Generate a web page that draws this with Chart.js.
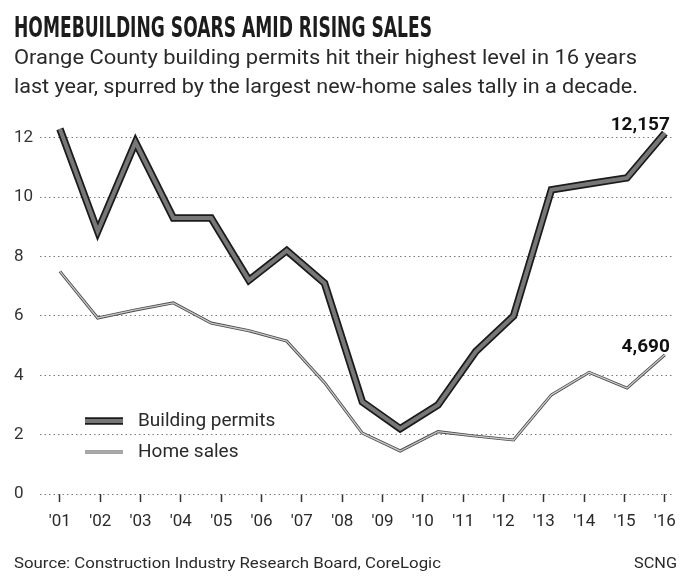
<!DOCTYPE html>
<html>
<head>
<meta charset="utf-8">
<script src="https://cdn.jsdelivr.net/npm/chart.js@4.4.1/dist/chart.umd.min.js"></script>
<style>
  html, body { margin: 0; padding: 0; background: #fff; }
  #wrap { position: relative; width: 686px; height: 582px; overflow: hidden; background: #fff; }
  #chart { position: absolute; left: 0; top: 0; }
  .txt { position: absolute; white-space: nowrap; transform-origin: 0 0; display: inline-block; }
  #title { left: 14px; top: 14px; font: bold 28px "Liberation Sans Narrow", "DejaVu Sans Condensed", sans-serif; line-height: 28px; color: #1c1c1c; }
  .sub { left: 14px; font: 400 21px Roboto, sans-serif; line-height: 24px; color: #2a2a2a; }
  #sub1 { top: 45px; }
  #sub2 { top: 74px; }
  .foot { top: 554px; font: 400 15px Roboto, sans-serif; line-height: 18px; color: #2a2a2a; }
  #source { left: 14px; }
  #credit { left: 634px; }
</style>
</head>
<body>
<div id="wrap">
  <canvas id="chart" width="686" height="582"></canvas>
  <div id="title" class="txt" data-w="418">HOMEBUILDING SOARS AMID RISING SALES</div>
  <div id="sub1" class="txt sub" data-w="623">Orange County building permits hit their highest level in 16 years</div>
  <div id="sub2" class="txt sub" data-w="624">last year, spurred by the largest new-home sales tally in a decade.</div>
  <div id="source" class="txt foot" data-w="427">Source: Construction Industry Research Board, CoreLogic</div>
  <div id="credit" class="txt foot" data-w="43">SCNG</div>
</div>
<script>
// Year labels along the bottom axis
const yearLabels = ["'01", "'02", "'03", "'04", "'05", "'06", "'07", "'08",
                    "'09", "'10", "'11", "'12", "'13", "'14", "'15", "'16"];

// Values in thousands
const buildingPermits = [12.3, 8.85, 11.85, 9.3, 9.3, 7.2, 8.2, 7.1, 3.1, 2.2,
                         3.0, 4.8, 6.0, 10.25, 10.45, 10.65, 12.157];
const homeSales = [7.5, 5.93, 6.2, 6.44, 5.76, 5.5, 5.15, 3.75, 2.05, 1.45,
                   2.1, 1.95, 1.82, 3.34, 4.1, 3.57, 4.69];

const yTickValues = [0, 2, 4, 6, 8, 10, 12];

const seriesNames = ['Building permits', 'Home sales'];

// Squeeze each text line horizontally to its column width
document.querySelectorAll('.txt').forEach(el => {
  const w = el.getBoundingClientRect().width;
  const target = parseFloat(el.dataset.w);
  if (w > 0 && target) el.style.transform = 'scaleX(' + (target / w) + ')';
});

const FONT = 'Roboto, sans-serif';
const pointIndex = buildingPermits.map((_, i) => i);

// Line looks: a dark casing under a lighter core
const permitStyle = { casing: '#1b1b1b', casingWidth: 7.5, core: '#777777', coreWidth: 4 };
const salesStyle  = { casing: '#4a4a4a', casingWidth: 3.0, core: '#c8c8c8', coreWidth: 1.3 };

function series(values, color, width, order) {
  return {
    data: values.map((v, i) => ({ x: pointIndex[i], y: v })),
    borderColor: color,
    borderWidth: width,
    borderJoinStyle: 'miter',
    borderCapStyle: 'butt',
    pointRadius: 0,
    tension: 0,
    fill: false,
    order: order
  };
}

const legendAndLabels = {
  id: 'legendAndLabels',
  afterDatasetsDraw(chart) {
    const ctx = chart.ctx;
    ctx.save();

    // Legend inside the plot, lower left
    const rows = [
      { name: seriesNames[0], style: permitStyle, y: 421 },
      { name: seriesNames[1], style: salesStyle, y: 452 }
    ];
    rows.forEach(r => {
      ctx.lineCap = 'butt';
      ctx.beginPath(); ctx.moveTo(85, r.y); ctx.lineTo(123, r.y);
      ctx.strokeStyle = r.style.casing; ctx.lineWidth = r.style.casingWidth; ctx.stroke();
      ctx.beginPath(); ctx.moveTo(85, r.y); ctx.lineTo(123, r.y);
      ctx.strokeStyle = r.style.core; ctx.lineWidth = r.style.coreWidth; ctx.stroke();
      ctx.fillStyle = '#2a2a2a';
      ctx.font = '400 19px ' + FONT;
      ctx.textAlign = 'left';
      ctx.textBaseline = 'middle';
      ctx.fillText(r.name, 138, r.y);
    });

    // End-of-line value labels
    [[0, buildingPermits], [2, homeSales]].forEach(([dsIndex, values]) => {
      const meta = chart.getDatasetMeta(dsIndex);
      const last = meta.data[meta.data.length - 1];
      const v = values[values.length - 1];
      const text = Math.round(v * 1000).toLocaleString('en-US');
      ctx.fillStyle = '#111';
      ctx.font = 'bold 19px ' + FONT;
      ctx.textAlign = 'right';
      ctx.textBaseline = 'alphabetic';
      ctx.fillText(text, last.x + 5, last.y - 3);
    });
    ctx.restore();
  }
};

new Chart(document.getElementById('chart'), {
  type: 'line',
  data: {
    datasets: [
      series(buildingPermits, permitStyle.core, permitStyle.coreWidth, 0),
      series(buildingPermits, permitStyle.casing, permitStyle.casingWidth, 1),
      series(homeSales, salesStyle.core, salesStyle.coreWidth, 2),
      series(homeSales, salesStyle.casing, salesStyle.casingWidth, 3)
    ]
  },
  options: {
    responsive: false,
    animation: false,
    devicePixelRatio: 1,
    layout: { padding: { left: 14, right: 10, top: 120, bottom: 0 } },
    plugins: { legend: { display: false }, tooltip: { enabled: false }, title: { display: false } },
    scales: {
      x: {
        type: 'linear',
        min: -0.526,
        max: 16.21,
        afterBuildTicks: s => {
          const step = (buildingPermits.length - 1) / (yearLabels.length - 1);
          s.ticks = yearLabels.map((_, i) => ({ value: i * step }));
        },
        afterFit: s => { s.height = 88; },
        ticks: {
          autoSkip: false, maxRotation: 0, minRotation: 0, padding: 10,
          color: '#2a2a2a', font: { family: FONT, size: 17 },
          callback: (v, i) => yearLabels[i]
        },
        grid: { drawOnChartArea: false, drawTicks: true, tickLength: 8, tickColor: '#333', tickWidth: 1.5 },
        border: { display: false }
      },
      y: {
        min: 0,
        max: 12.6,
        afterBuildTicks: s => { s.ticks = yTickValues.map(v => ({ value: v })); },
        afterFit: s => { s.width = 26; },
        ticks: { crossAlign: 'far', padding: 0, color: '#333', font: { family: FONT, size: 17 } },
        grid: { drawTicks: false, color: '#7a7a7a', lineWidth: 1 },
        border: { display: false, dash: [1.5, 3] }
      }
    }
  },
  plugins: [legendAndLabels]
});
</script>
</body>
</html>
